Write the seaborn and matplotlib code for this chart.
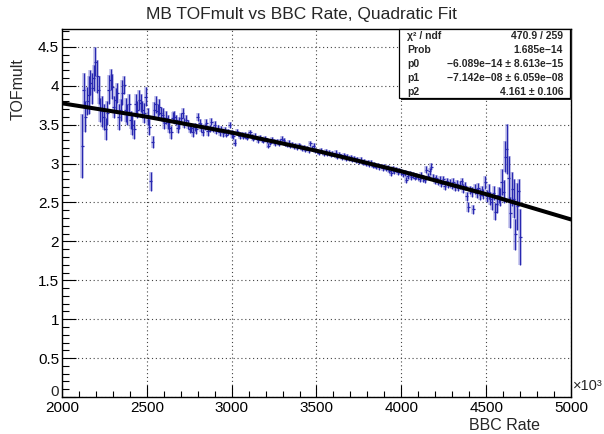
import numpy as np
import pandas as pd
import matplotlib
matplotlib.use("Agg")
import matplotlib.pyplot as plt
from matplotlib.patches import Rectangle
from matplotlib.ticker import MultipleLocator, FuncFormatter
import seaborn as sns

# ---------------- data ----------------
rate_first = 2118.0   # first bin centre (x10^3)
rate_bin = 9.9        # bin width (x10^3)

tofmult = [
    3.23, 3.95, 3.60, 3.80, 3.88, 4.04, 3.97, 4.10, 4.31, 4.12,
    3.95, 3.69, 3.67, 3.60, 3.44, 3.65, 3.95, 4.08, 3.99, 3.73,
    3.82, 3.91, 3.60, 3.69, 3.91, 4.01, 3.69, 3.63, 3.76, 3.56,
    3.50, 3.44, 3.76, 3.69, 3.82, 3.78, 3.69, 3.65, 3.86, 3.60,
    3.47, 2.77, 3.28, 3.69, 3.76, 3.67, 3.73, 3.65, 3.63, 3.52,
    3.59, 3.54, 3.46, 3.40, 3.59, 3.60, 3.56, 3.46, 3.52, 3.59,
    3.65, 3.52, 3.56, 3.50, 3.44, 3.46, 3.41, 3.47, 3.44, 3.60,
    3.52, 3.46, 3.40, 3.47, 3.52, 3.42, 3.45, 3.54, 3.44, 3.50,
    3.42, 3.45, 3.40, 3.44, 3.39, 3.43, 3.37, 3.41, 3.50, 3.38,
    3.35, 3.27, 3.41, 3.39, 3.36, 3.38, 3.34, 3.37, 3.33, 3.36,
    3.40, 3.35, 3.32, 3.36, 3.33, 3.30, 3.34, 3.31, 3.29, 3.33,
    3.30, 3.23, 3.27, 3.31, 3.28, 3.26, 3.29, 3.25, 3.28, 3.32,
    3.30, 3.26, 3.24, 3.27, 3.23, 3.25, 3.22, 3.24, 3.21, 3.23,
    3.22, 3.19, 3.21, 3.18, 3.20, 3.17, 3.26, 3.19, 3.23, 3.17,
    3.16, 3.14, 3.17, 3.15, 3.13, 3.16, 3.12, 3.14, 3.11, 3.13,
    3.11, 3.14, 3.09, 3.12, 3.10, 3.08, 3.11, 3.07, 3.09, 3.06,
    3.08, 3.05, 3.07, 3.04, 3.06, 3.02, 3.05, 3.01, 3.03, 3.00,
    3.02, 2.99, 3.01, 2.97, 2.99, 2.96, 2.98, 2.95, 2.97, 2.94,
    2.96, 2.93, 2.95, 2.91, 2.88, 2.93, 2.90, 2.92, 2.89, 2.91,
    2.89, 2.86, 2.88, 2.79, 2.84, 2.87, 2.83, 2.85, 2.82, 2.84,
    2.83, 2.80, 2.85, 2.81, 2.79, 2.92, 2.84, 2.90, 2.96, 2.82,
    2.78, 2.81, 2.76, 2.79, 2.74, 2.80, 2.71, 2.77, 2.73, 2.75,
    2.72, 2.76, 2.70, 2.74, 2.69, 2.73, 2.77, 2.68, 2.71, 2.58,
    2.44, 2.66, 2.63, 2.41, 2.67, 2.62, 2.69, 2.60, 2.65, 2.61,
    2.76, 2.58, 2.64, 2.55, 2.50, 2.62, 2.38, 2.48, 2.60, 2.57,
    2.76, 2.64, 3.09, 3.19, 2.82, 2.37, 2.67, 2.55, 2.09, 2.45,
    2.65, 2.06,
]

tof_err = [
    0.41, 0.22, 0.20, 0.18, 0.24, 0.16, 0.20, 0.17, 0.19, 0.21,
    0.18, 0.15, 0.20, 0.17, 0.14, 0.16, 0.19, 0.13, 0.16, 0.14,
    0.15, 0.13, 0.17, 0.14, 0.16, 0.12, 0.15, 0.13, 0.14, 0.12,
    0.13, 0.12, 0.14, 0.11, 0.13, 0.12, 0.11, 0.13, 0.12, 0.11,
    0.10, 0.12, 0.08, 0.10, 0.11, 0.09, 0.10, 0.08, 0.09, 0.08,
    0.08, 0.09, 0.07, 0.08, 0.07, 0.08, 0.06, 0.07, 0.08, 0.06,
    0.07, 0.06, 0.07, 0.06, 0.05, 0.06, 0.07, 0.05, 0.06, 0.05,
    0.05, 0.06, 0.05, 0.04, 0.05, 0.06, 0.04, 0.05, 0.04, 0.05,
    0.04, 0.05, 0.04, 0.04, 0.05, 0.04, 0.03, 0.04, 0.04, 0.05,
    0.04, 0.05, 0.04, 0.03, 0.04, 0.03, 0.03, 0.04, 0.03, 0.03,
    0.030, 0.028, 0.032, 0.030, 0.027, 0.031, 0.029, 0.033, 0.028, 0.030,
    0.031, 0.029, 0.027, 0.032, 0.030, 0.028, 0.031, 0.029, 0.030, 0.033,
    0.030, 0.028, 0.031, 0.029, 0.027, 0.030, 0.032, 0.028, 0.030, 0.029,
    0.029, 0.031, 0.028, 0.030, 0.027, 0.029, 0.033, 0.030, 0.031, 0.028,
    0.028, 0.030, 0.029, 0.031, 0.027, 0.030, 0.028, 0.029, 0.031, 0.030,
    0.030, 0.032, 0.029, 0.031, 0.028, 0.030, 0.029, 0.031, 0.030, 0.032,
    0.031, 0.029, 0.032, 0.030, 0.028, 0.031, 0.030, 0.033, 0.029, 0.031,
    0.032, 0.030, 0.031, 0.029, 0.033, 0.031, 0.030, 0.032, 0.031, 0.034,
    0.033, 0.031, 0.034, 0.032, 0.035, 0.033, 0.031, 0.034, 0.036, 0.033,
    0.035, 0.037, 0.034, 0.038, 0.036, 0.035, 0.039, 0.037, 0.036, 0.038,
    0.038, 0.040, 0.037, 0.041, 0.039, 0.045, 0.040, 0.042, 0.044, 0.041,
    0.042, 0.044, 0.041, 0.045, 0.043, 0.046, 0.044, 0.047, 0.045, 0.048,
    0.047, 0.049, 0.046, 0.050, 0.048, 0.051, 0.049, 0.053, 0.050, 0.055,
    0.060, 0.055, 0.065, 0.058, 0.062, 0.060, 0.066, 0.070, 0.064, 0.068,
    0.085, 0.080, 0.095, 0.088, 0.100, 0.092, 0.110, 0.120, 0.105, 0.115,
    0.170, 0.150, 0.200, 0.320, 0.280, 0.200, 0.220, 0.250, 0.200, 0.300,
    0.150, 0.360,
]

# quadratic fit curve
fit_rate = [2000, 2500, 3000, 3500, 4000, 4500, 5000]
fit_tof = [3.775, 3.602, 3.399, 3.165, 2.901, 2.607, 2.282]

x_ticks = [2000, 2500, 3000, 3500, 4000, 4500, 5000]
y_ticks = [0, 0.5, 1, 1.5, 2, 2.5, 3, 3.5, 4, 4.5]

stats_labels = ["\u03c7\u00b2 / ndf", "Prob", "p0", "p1", "p2"]
stats_values = ["470.9 / 259", "1.685e\u221214",
                "\u22126.089e\u221214 \u00b1 8.613e\u221215",
                "\u22127.142e\u221208 \u00b1 6.059e\u221208",
                "4.161 \u00b1 0.106"]

title = "MB TOFmult vs BBC Rate, Quadratic Fit"

# ---------------- figure ----------------
sns.set_theme(style="ticks")
plt.rcParams['font.family'] = ['Liberation Sans', 'DejaVu Sans']

W, H = 604, 434
fig = plt.figure(figsize=(W / 100, H / 100), dpi=100)
fig.patch.set_facecolor("white")
ax_l, ax_r, ax_t, ax_b = 62, 571, 29, 397
ax = fig.add_axes([ax_l / W, 1 - ax_b / H, (ax_r - ax_l) / W, (ax_b - ax_t) / H])
ax.set_facecolor("white")

bbc_rate = rate_first + rate_bin * np.arange(len(tofmult))
df = pd.DataFrame({"rate": bbc_rate, "tof": tofmult, "err": tof_err})

# error bars: soft halo + dark core
ax.errorbar(df["rate"], df["tof"], yerr=df["err"], fmt="none",
            ecolor="#9090dc", elinewidth=2.6, alpha=0.55, capsize=0, zorder=2)
ax.errorbar(df["rate"], df["tof"], yerr=df["err"], xerr=rate_bin * 0.9, fmt="none",
            ecolor="#2828b0", elinewidth=0.9, capsize=0, zorder=3)

fit_df = pd.DataFrame({"rate": fit_rate, "tof": fit_tof})
sns.lineplot(data=fit_df, x="rate", y="tof", color="black", linewidth=2.9,
             ax=ax, zorder=4, sort=False)

ax.set_xlim(2000, 5000)
ax.set_ylim(0, 4.73)
ax.set_xticks(x_ticks)
ax.set_yticks(y_ticks)
ax.xaxis.set_minor_locator(MultipleLocator(100))
ax.yaxis.set_minor_locator(MultipleLocator(0.1))
# the "0" label sits a little higher (drawn separately below)
ax.yaxis.set_major_formatter(FuncFormatter(lambda v, p: "" if v == 0 else "%g" % v))
ax.xaxis.set_major_formatter(FuncFormatter(lambda v, p: "%d" % v))
ax.tick_params(axis="both", which="both", direction="in", colors="black",
               labelsize=11, width=0.8)
ax.tick_params(axis="x", which="major", length=9, pad=3)
ax.tick_params(axis="x", which="minor", length=4.5)
ax.tick_params(axis="y", which="major", length=10, pad=2)
ax.tick_params(axis="y", which="minor", length=5)
ax.set_xlabel("")
ax.set_ylabel("")
ax.grid(True, which="major", color="#444444", linestyle=(0, (1, 2.5)), linewidth=0.8)
for s in ax.spines.values():
    s.set_visible(True)
    s.set_color("black")
    s.set_linewidth(1.0)

fig.text(58.5 / W, 1 - 392 / H, "%g" % y_ticks[0], ha="right", va="center", fontsize=11)

# titles / labels
fig.text(301 / W, 1 - 14 / H, title, ha="center", va="center", fontsize=12.5)
fig.text(540 / W, 1 - 425 / H, "BBC Rate", ha="right", va="center", fontsize=11.5)
fig.text(18 / W, 1 - 58 / H, "TOFmult", ha="center", va="top", rotation=90, fontsize=11.5)
fig.text(573 / W, 1 - 386 / H, "\u00d710\u00b3", ha="left", va="center", fontsize=10.5)

# stats box
bx_l, bx_r, bx_t, bx_b = 399, 570, 29, 98
fig.add_artist(Rectangle(((bx_l + 1.5) / W, 1 - (bx_b + 1.5) / H), (bx_r - bx_l) / W,
                         (bx_b - bx_t) / H, transform=fig.transFigure,
                         facecolor="#222222", edgecolor="none", zorder=10))
fig.add_artist(Rectangle((bx_l / W, 1 - bx_b / H), (bx_r - bx_l) / W,
                         (bx_b - bx_t) / H, transform=fig.transFigure,
                         facecolor="white", edgecolor="black", linewidth=0.9, zorder=11))
row_y = [36, 50, 64, 78, 92]
for lab, val, ry in zip(stats_labels, stats_values, row_y):
    fig.text(407 / W, 1 - ry / H, lab, ha="left", va="center", fontsize=7.5,
             fontweight="bold", zorder=12)
    fig.text(563 / W, 1 - ry / H, val, ha="right", va="center", fontsize=7.5,
             fontweight="bold", zorder=12)

fig.savefig("out.png", dpi=100)
